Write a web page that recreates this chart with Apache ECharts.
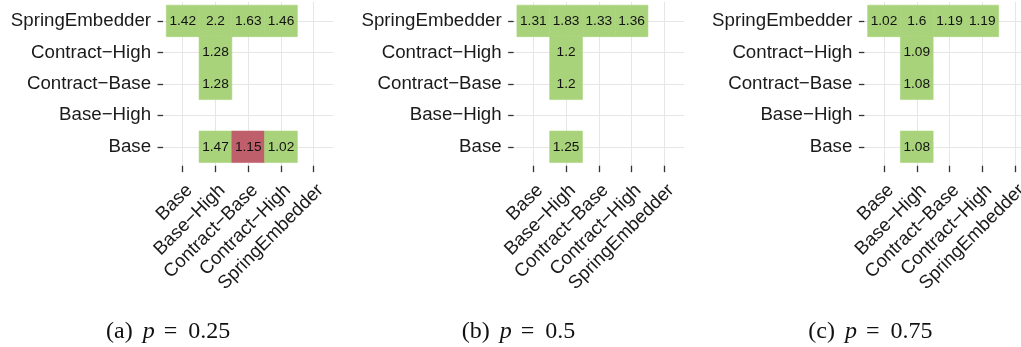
<!DOCTYPE html>
<html>
<head>
<meta charset="utf-8">
<style>
  html, body { margin: 0; padding: 0; background: #ffffff; }
  #chart { width: 1021px; height: 347px; }
</style>
<script src="https://cdn.jsdelivr.net/npm/echarts@6/dist/echarts.min.js"></script>
</head>
<body>
<div id="chart"></div>
<script>
// Layout methods, used for both the columns and the rows of each matrix
const methods = ['Base', 'Base\u2212High', 'Contract\u2212Base', 'Contract\u2212High', 'SpringEmbedder'];

// Edge-probability settings, one panel each
const panelTags = ['(a)', '(b)', '(c)'];
const pValues = ['0.25', '0.5', '0.75'];

// Cells: [column method index, row method index, ratio]
const cellsP025 = [
  [0, 4, 1.42], [1, 4, 2.2], [2, 4, 1.63], [3, 4, 1.46],
  [1, 3, 1.28],
  [1, 2, 1.28],
  [1, 0, 1.47], [2, 0, 1.15], [3, 0, 1.02]
];
const cellsP05 = [
  [0, 4, 1.31], [1, 4, 1.83], [2, 4, 1.33], [3, 4, 1.36],
  [1, 3, 1.2],
  [1, 2, 1.2],
  [1, 0, 1.25]
];
const cellsP075 = [
  [0, 4, 1.02], [1, 4, 1.6], [2, 4, 1.19], [3, 4, 1.19],
  [1, 3, 1.09],
  [1, 2, 1.08],
  [1, 0, 1.08]
];

// Cells where the row method does worse than the column method: "col,row"
const worseP025 = ['2,0'];
const worseP05 = [];
const worseP075 = [];

const panelCells = [cellsP025, cellsP05, cellsP075];
const panelWorse = [worseP025, worseP05, worseP075];

const GREEN = '#a9d37b';
const RED = '#bf5f6b';
const SANS = "'Liberation Sans', Arial, Helvetica, sans-serif";
const SERIF = "'Liberation Serif', 'Times New Roman', serif";

// Panel geometry (pixels)
const panelLeft = [163.05, 513.65, 864.35];
const panelWidth = 170.3;
const panelTop = 2.0;
const panelHeight = 163.7;
const captionLeft = [106, 461.7, 808.3];

const chart = echarts.init(document.getElementById('chart'), null, { renderer: 'canvas' });

const ticks = methods.map((_, i) => i);
const grids = [], xAxes = [], yAxes = [], series = [], titles = [];

panelCells.forEach((cells, k) => {
  grids.push({
    left: panelLeft[k], top: panelTop, width: panelWidth, height: panelHeight,
    containLabel: false, outerBoundsMode: 'none'
  });
  const axisBase = {
    gridIndex: k, type: 'value', min: -0.6, max: 4.6,
    axisLine: { show: false, onZero: false },
    splitLine: { show: true, lineStyle: { color: '#e6e6e6', width: 1 } },
    minorSplitLine: { show: false }
  };
  xAxes.push(Object.assign({}, axisBase, {
    position: 'bottom',
    axisTick: { show: true, customValues: ticks, length: 6.5, lineStyle: { color: '#333333', width: 1.3 } },
    axisLabel: {
      show: true, customValues: ticks, rotate: 45, align: 'right', verticalAlign: 'top',
      margin: 15, color: '#1a1a1a', fontFamily: SANS, fontSize: 18.7,
      formatter: v => methods[Math.round(v)]
    }
  }));
  yAxes.push(Object.assign({}, axisBase, {
    position: 'left',
    axisTick: { show: true, customValues: ticks, length: 5.5, lineStyle: { color: '#333333', width: 1.3 } },
    axisLabel: {
      show: true, customValues: ticks, margin: 12, color: '#1a1a1a',
      fontFamily: SANS, fontSize: 18.7,
      formatter: v => methods[Math.round(v)]
    }
  }));
  const worse = panelWorse[k];
  series.push({
    type: 'custom',
    xAxisIndex: k, yAxisIndex: k,
    data: cells,
    clip: false,
    renderItem: (params, api) => {
      const x = api.value(0), y = api.value(1), v = api.value(2);
      const p0 = api.coord([x - 0.5, y + 0.5]);
      const p1 = api.coord([x + 0.5, y - 0.5]);
      const c = api.coord([x, y]);
      const fill = worse.indexOf(x + ',' + y) >= 0 ? RED : GREEN;
      return {
        type: 'group',
        children: [
          {
            type: 'rect',
            shape: { x: p0[0], y: p0[1], width: p1[0] - p0[0], height: p1[1] - p0[1] },
            style: { fill: fill, stroke: fill, lineWidth: 0.6 }
          },
          {
            type: 'text',
            x: c[0], y: c[1],
            style: {
              text: String(v), fill: '#111111',
              font: '13.7px ' + SANS, align: 'center', verticalAlign: 'middle'
            }
          }
        ]
      };
    }
  });
  const cap = { fontFamily: SERIF, fontSize: 24, fontWeight: 'normal', color: '#111111' };
  titles.push({
    text: '{t|' + panelTags[k] + '}{p|p}{e|=}{n|' + pValues[k] + '}',
    left: captionLeft[k], top: 320, padding: 0,
    textStyle: {
      fontWeight: 'normal',
      rich: {
        t: Object.assign({}, cap),
        p: Object.assign({}, cap, { fontStyle: 'italic', padding: [0, 0, 0, 10] }),
        e: Object.assign({}, cap, { padding: [0, 0, 0, 9] }),
        n: Object.assign({}, cap, { padding: [0, 0, 0, 11] })
      }
    }
  });
});

chart.setOption({
  backgroundColor: '#ffffff',
  animation: false,
  title: titles,
  grid: grids,
  xAxis: xAxes,
  yAxis: yAxes,
  series: series
});
</script>
</body>
</html>
